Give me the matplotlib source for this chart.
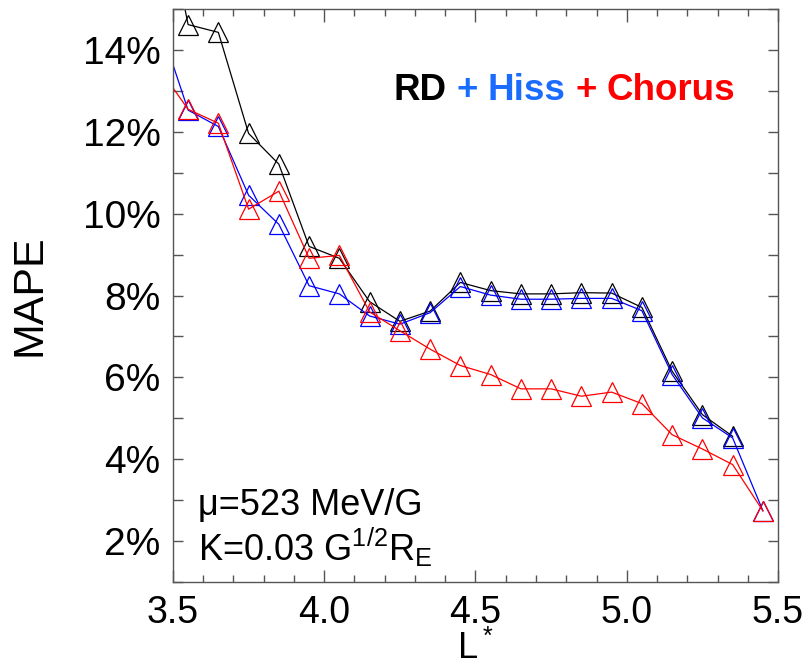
import matplotlib.pyplot as plt
import numpy as np
from matplotlib.ticker import MultipleLocator, FuncFormatter

plt.rcParams['font.family'] = ['Liberation Sans', 'DejaVu Sans']
plt.rcParams['mathtext.default'] = 'regular'

# L* grid (first point at 3.45 lies just outside the axes and is clipped)
lstar = [3.45, 3.55, 3.65, 3.75, 3.85, 3.95, 4.05, 4.15, 4.25, 4.35, 4.45,
         4.55, 4.65, 4.75, 4.85, 4.95, 5.05, 5.15, 5.25, 5.35, 5.45]

mape_rd = [18.3, 14.62, 14.43, 11.96, 11.21, 9.20, 8.91, 7.85, 7.37, 7.62, 8.32,
           8.12, 8.04, 8.04, 8.07, 8.06, 7.71, 6.15, 5.09, 4.56]
mape_hiss = [14.75, 12.53, 12.13, 10.45, 9.74, 8.24, 8.04, 7.50, 7.30, 7.58, 8.22,
             8.01, 7.91, 7.91, 7.93, 7.93, 7.63, 6.07, 5.01, 4.52, 2.74]
mape_chorus = [13.6, 12.55, 12.21, 10.11, 10.55, 8.91, 8.98, 7.60, 7.14, 6.69, 6.29,
               6.07, 5.72, 5.72, 5.54, 5.64, 5.36, 4.60, 4.25, 3.87, 2.74]

fig = plt.figure(figsize=(8.03, 6.69), dpi=100)
ax = fig.add_axes([0.2154, 0.130, 0.7535, 0.8565])

style = dict(marker='^', markersize=14, markerfacecolor='none', lw=0.9, mew=0.9)
ax.plot(lstar[:len(mape_rd)], mape_rd, color='black', **style)
ax.plot(lstar, mape_hiss, color='blue', **style)
ax.plot(lstar, mape_chorus, color='red', **style)

ax.set_xlim(3.5, 5.5)
ax.set_ylim(1, 15)
ax.xaxis.set_major_locator(MultipleLocator(0.5))
ax.xaxis.set_minor_locator(MultipleLocator(0.1))
ax.yaxis.set_major_locator(MultipleLocator(2))
ax.yaxis.set_minor_locator(MultipleLocator(1))
ax.xaxis.set_major_formatter(FuncFormatter(lambda v, p: f'{v:.1f}'))
ax.yaxis.set_major_formatter(FuncFormatter(lambda v, p: f'{v:.0f}%'))

ax.tick_params(axis='both', which='both', direction='in', top=True, right=True,
               colors='#555555', labelcolor='black', width=1)
ax.tick_params(axis='x', which='major', length=9, labelsize=27, pad=9)
ax.tick_params(axis='x', which='minor', length=5)
ax.tick_params(axis='y', which='both', length=7, labelsize=28, pad=9)
for s in ax.spines.values():
    s.set_color('#555555')
    s.set_linewidth(1)

ax.set_ylabel('MAPE', fontsize=31, labelpad=24)
ax.set_xlabel(r'L$^*$', fontsize=26, labelpad=0)

# coloured title inside the axes, pieces laid out one after another
fig.canvas.draw()
renderer = fig.canvas.get_renderer()
pieces = [('RD', 'black'), ('+', '#1a6cff'), ('Hiss', '#1a6cff'),
          ('+', 'red'), ('Chorus', 'red')]
xpix, ypix = ax.transAxes.transform((0.364, 0.841))
space = 10
for word, col in pieces:
    t = ax.text(xpix, ypix, word, color=col, transform=None, fontsize=26.5,
                fontweight='bold', va='baseline', ha='left')
    bb = t.get_window_extent(renderer)
    xpix = bb.x1 + space

ax.text(0.041, 0.117, 'μ=523 MeV/G', transform=ax.transAxes, fontsize=26, va='baseline')
ax.text(0.041, 0.037, r'K=0.03 G$^{1/2}$R$_{E}$', transform=ax.transAxes,
        fontsize=26, va='baseline')

plt.savefig('out.png', dpi=100)
